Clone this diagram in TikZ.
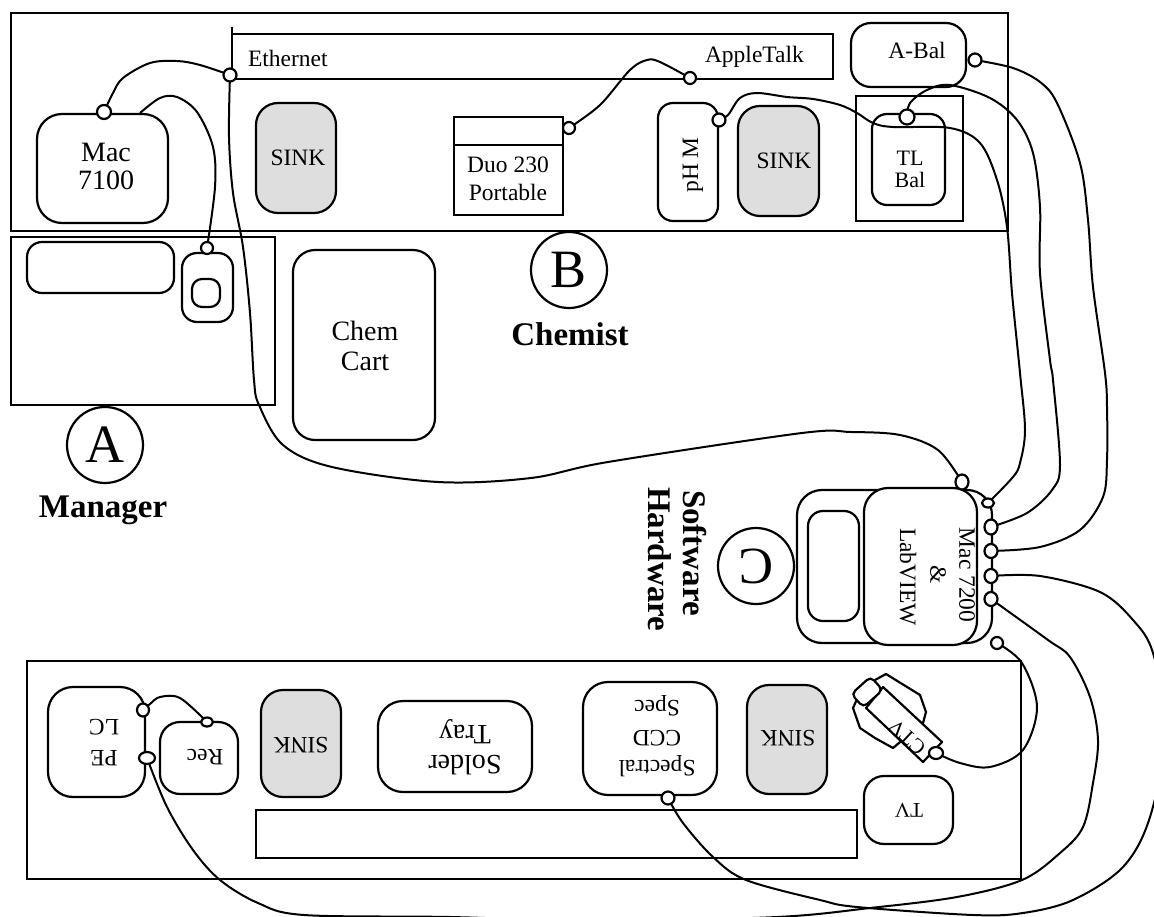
\documentclass[tikz,border=0pt]{standalone}
\usepackage{fontspec}
\setmainfont{Liberation Serif}
\usetikzlibrary{shapes.geometric}
\pgfdeclarelayer{boxes}
\pgfdeclarelayer{wires}
\pgfsetlayers{boxes,wires,main}
\newcommand{\fs}[2]{\fontsize{#1}{#2}\selectfont}
\definecolor{sinkgray}{gray}{0.87}
\tikzset{
  x=1pt,y=-1pt,
  every node/.style={inner sep=0pt,outer sep=0pt},
  rbox/.style={line width=2.2pt,draw=black,fill=white,rounded corners=#1},
  rbox/.default=18pt,
  sink/.style={line width=2.2pt,draw=black,fill=sinkgray,rounded corners=22pt},
  room/.style={line width=2.2pt,draw=black},
  port/.style={ellipse,draw=black,line width=2.2pt,fill=white,minimum width=13pt,minimum height=13pt},
  wire/.style={line width=2pt,draw=black,line join=round},
  circ/.style={circle,draw=black,line width=2.2pt,minimum size=76pt,font=\fs{54}{54}},
  lbl/.style={align=center,text=black,font=\fs{23.5}{#1}},
  lbl/.default=26,
  big/.style={align=center,text=black,font=\fs{28}{#1}},
  big/.default=29,
  bold/.style={text=black,font=\bfseries\fs{33}{33}},
}
\begin{document}
\begin{tikzpicture}
\useasboundingbox (0,0) rectangle (1154,917);
\begin{pgfonlayer}{boxes}
\draw[room] (11,13) rectangle (1008,231);
\draw[room] (11,237) rectangle (275,405);
\draw[room] (27,661) rectangle (1021,879);
\draw[room] (232,27) -- (232,79) -- (833,79) -- (833,34) -- (232,34);
\draw[rbox=25pt] (37,114) rectangle (168,223);
\draw[sink] (256,103) rectangle (336,213);
\draw[room,fill=white] (454,117) rectangle (563,215);
\draw[room] (454,145) -- (563,145);
\draw[rbox=15pt] (658,103) rectangle (718,221);
\draw[sink] (738,106) rectangle (819,216);
\draw[room] (856,96) rectangle (963,221);
\draw[rbox=15pt] (872,114) rectangle (945,205);
\draw[rbox=20pt] (851,23) rectangle (966,87);
\draw[rbox=15pt] (27,242) rectangle (174,293);
\draw[rbox=15pt] (182,253) rectangle (233,322);
\draw[rbox=10pt] (192,279) rectangle (220,307);
\draw[rbox=22pt] (293,250) rectangle (435,440);
\draw[rbox=25pt] (797,490) rectangle (992,643);
\draw[rbox=24pt] (864,488) rectangle (977,645);
\draw[rbox=15pt] (808,511) rectangle (859,621);
\draw[rbox=25pt] (48,687) rectangle (145,797);
\draw[rbox=20pt] (160,722) rectangle (238,794);
\draw[sink] (261,690) rectangle (341,797);
\draw[rbox=25pt] (378,701) rectangle (532,792);
\draw[rbox=25pt] (583,682) rectangle (717,795);
\draw[sink] (747,685) rectangle (827,794);
\draw[rbox=20pt] (864,776) rectangle (953,844);
\draw[room] (256,810) rectangle (857,858);
% camera
\draw[line width=2.2pt,fill=white,line join=round] (886,674) -- (920,695) -- (926,712) -- (923,723) -- (893,748) -- (875,738) -- (860,728) -- (853,708) -- (858,697) -- (875,680) -- cycle;
\draw[line width=2.2pt,fill=white,line join=round] (883,687) -- (942,742) -- (923,762) -- (866,708) -- cycle;
\draw[line width=2.2pt,fill=white,rotate around={42:(867,692)},rounded corners=5pt] (854,683) rectangle (880,701);
\end{pgfonlayer}
% labels
\node[big=28] (tMac) at (106,166) {Mac\\7100};
\node[lbl] (tSink1) at (298,158) {SINK};
\node[lbl,anchor=west] (tEth) at (248,58) {Ethernet};
\node[lbl,anchor=west] (tAT) at (705,57) {AppleTalk};
\node[lbl=28] (tDuo) at (508,179) {Duo 230\\Portable};
\node[lbl,rotate=90] (tPH) at (693,165) {pH M};
\node[lbl] (tSink2) at (784,161) {SINK};
\node[lbl=22,font=\fs{22}{22}] (tTL) at (910,169) {TL\\Bal};
\node[lbl] (tABal) at (917,50) {A-Bal};
\node[big=30] (tChem) at (365,346) {Chem\\Cart};
\node[circ] (cB) at (569,270) {B};
\node[bold] (tChemist) at (570,334) {Chemist};
\node[circ] (cA) at (105,445) {A};
\node[bold] (tMgr) at (103,510) {Manager};
\node[circ,rotate=180,font=\fs{52}{52}] (cC) at (756,566) {C};
\node[bold,rotate=-90,anchor=west] (tSW) at (695,490) {Software};
\node[bold,rotate=-90,anchor=west] (tHW) at (660,487) {Hardware};
\node[lbl,rotate=-90] (tMac72) at (967,575) {Mac 7200};
\node[lbl,rotate=-90] (tAmp) at (938,575) {\&};
\node[lbl,rotate=-90] (tLV) at (908,577) {LabVIEW};
\node[lbl=31,rotate=180] (tPE) at (104,743) {PE\\LC};
\node[lbl,rotate=180] (tRec) at (205,757) {Rec};
\node[lbl,rotate=180] (tSink3) at (301,745) {SINK};
\node[big=30,rotate=180] (tSolder) at (465,747) {Solder\\Tray};
\node[lbl=30,rotate=180] (tSpec) at (657,736) {Spectral\\CCD\\Spec};
\node[lbl,rotate=180] (tSink4) at (788,738) {SINK};
\node[lbl,rotate=180,font=\fs{21}{21}] (tTV) at (909,810) {TV};
\node[lbl,rotate=137,font=\fs{21}{21}] (tCTV) at (907,737) {CTV};
% ports
\node[port] (pEth) at (230,75) {};
\node[port,minimum size=14pt] (pMacA) at (104,112) {};
\coordinate (pMacB) at (140,113);
\node[port,minimum size=12pt] (pRoom) at (207,248) {};
\node[port,minimum size=12pt] (pDuo) at (569,128) {};
\node[port,minimum size=12pt] (pAT) at (690,78) {};
\node[port] (pPH) at (719,120) {};
\node[port,minimum width=15pt,minimum height=15pt] (pTL) at (907,117) {};
\node[port] (pAB) at (975,60) {};
\node[port,minimum width=13pt,minimum height=15pt] (pC0) at (962,482) {};
\node[port,minimum width=12pt,minimum height=9pt] (pC1) at (988,503) {};
\node[port,minimum width=13pt,minimum height=15pt] (pC2) at (991,527) {};
\node[port,minimum width=13pt,minimum height=14pt] (pC3) at (991,551) {};
\node[port,minimum width=13pt,minimum height=14pt] (pC4) at (991,576) {};
\node[port,minimum width=13pt,minimum height=14pt] (pC5) at (991,599) {};
\node[port,minimum size=12pt] (pC6) at (997,643) {};
\node[port,minimum width=14pt,minimum height=12pt] (pCTV) at (936,753) {};
\node[port,minimum width=12pt,minimum height=13pt] (pPE1) at (143,710) {};
\node[port,minimum width=16pt,minimum height=12pt] (pPE2) at (147,758) {};
\node[port,minimum width=12pt,minimum height=9pt] (pRec) at (207,722) {};
\node[port,minimum size=13pt] (pSpec) at (668,798) {};
% wires
\begin{pgfonlayer}{wires}
\draw[wire] plot[smooth,tension=0.55] coordinates {(pMacA.center) (113,93) (123,78) (150,63) (177,61) (200,65) (pEth.center)};
\draw[wire] plot[smooth,tension=0.55] coordinates {(pMacB) (160,98) (177,97) (197,112) (213,147) (215,187) (pRoom.center)};
\draw[wire] plot[smooth,tension=0.55] coordinates {(pEth.center) (229,137) (233,193) (243,247) (250,313) (254,380) (259,405) (283,445) (332,467) (438,482) (531,478) (608,462) (802,433) (851,432) (900,435) (938,450) (pC0.center)};
\draw[wire] plot[smooth,tension=0.55] coordinates {(pDuo.center) (600,105) (630,70) (647,60) (660,62) (pAT.center)};
\draw[wire] plot[smooth,tension=0.55] coordinates {(pPH.center) (728,115) (740,98) (757,93) (787,97) (813,99) (840,105) (857,113) (873,123) (893,127) (950,128) (980,143) (997,180) (1007,227) (1012,293) (1020,373) (1025,430) (1020,463) (1013,477) (pC1.center)};
\draw[wire] plot[smooth,tension=0.55] coordinates {(pTL.center) (910,103) (927,90) (950,85) (990,98) (1017,120) (1033,153) (1040,207) (1040,273) (1050,360) (1053,380) (1060,465) (1052,490) (1027,513) (pC2.center)};
\draw[wire] plot[smooth,tension=0.55] coordinates {(pAB.center) (1013,68) (1040,82) (1057,103) (1080,163) (1088,220) (1093,287) (1105,373) (1107,407) (1107,460) (1103,497) (1080,530) (1040,547) (pC3.center)};
\draw[wire] plot[smooth,tension=0.55] coordinates {(pC4.center) (1040,576) (1100,592) (1133,620) (1153,653) (1166,730) (1150,817) (1123,867) (1073,900) (1023,913) (973,915) (857,907) (820,900) (746,880) (713,857) (683,823) (pSpec.center)};
\draw[wire] plot[smooth,tension=0.55] coordinates {(pC5.center) (1048,640) (1070,657) (1090,697) (1098,740) (1093,783) (1083,827) (1060,853) (1022,880) (957,897) (870,908) (777,917) (600,921) (450,917) (304,915) (258,903) (220,880) (193,850) (167,807) (pPE2.center)};
\draw[wire] plot[smooth,tension=0.55] coordinates {(pC6.center) (1022,663) (1037,707) (1023,750) (990,767) (960,763) (pCTV.center)};
\draw[wire] plot[smooth,tension=0.55] coordinates {(pPE1.center) (150,704) (160,697) (180,698) (pRec.center)};
\end{pgfonlayer}
\end{tikzpicture}
\end{document}
